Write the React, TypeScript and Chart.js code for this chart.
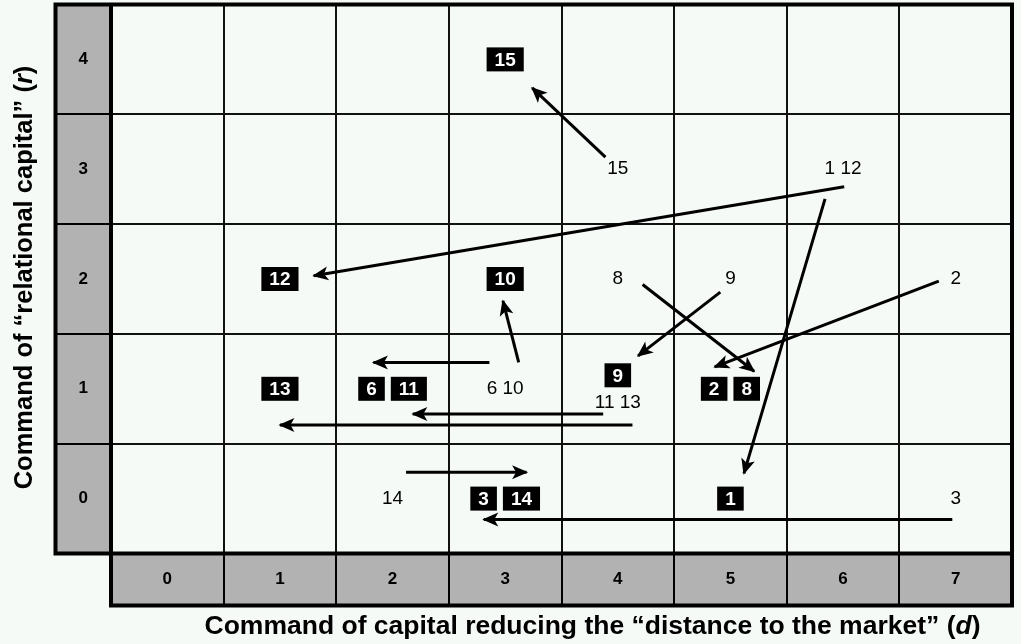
import React, { useEffect, useRef } from 'react';
import { Chart, registerables } from 'chart.js';

Chart.register(...registerables);

// ---------- data ----------
const X_TICKS = ['0', '1', '2', '3', '4', '5', '6', '7'];
const Y_TICKS = ['0', '1', '2', '3', '4'];
const X_TITLE = ['Command of capital reducing the \u201cdistance to the market\u201d (', 'd', ')'];
const Y_TITLE = ['Command of \u201crelational capital\u201d (', 'r', ')'];

const FIRMS = [1, 2, 3, 6, 8, 9, 10, 11, 12, 13, 14, 15];
const D_BEFORE = [6, 7, 7, 3, 4, 5, 3, 4, 6, 4, 2, 4];
const R_BEFORE = [3, 2, 0, 1, 2, 2, 1, 1, 3, 1, 0, 3];
const D_AFTER = [5, 5, 3, 2, 5, 4, 3, 2, 1, 1, 3, 3];
const R_AFTER = [0, 1, 0, 1, 1, 1, 2, 1, 2, 1, 0, 4];

// arrow start / tip (axis units)
const ARROW_X0 = [5.84, 6.85, 6.97, 2.86, 4.22, 4.91, 3.12, 3.87, 6.01, 4.13, 2.12, 3.89];
const ARROW_Y0 = [2.73, 1.98, -0.19, 1.24, 1.95, 1.88, 1.24, 0.77, 2.84, 0.67, 0.24, 3.11];
const ARROW_X1 = [5.12, 4.86, 2.81, 1.83, 5.21, 4.18, 2.98, 2.18, 1.3, 1.0, 3.19, 3.24];
const ARROW_Y1 = [0.23, 1.2, -0.19, 1.24, 1.16, 1.3, 1.8, 0.77, 2.03, 0.67, 0.24, 3.74];

// ---------- styles ----------
const BG = '#f6faf7';
const GRAY = '#b2b2b2';
const FONT = '"Liberation Sans", Arial, sans-serif';
const BAND_W = 55.5;
const BAND_H = 52;

type Cell = { x: number; y: number; ids: number[] };

function groupCells(ds: number[], rs: number[]): Cell[] {
  const map = new Map<string, Cell>();
  FIRMS.forEach((f, i) => {
    const k = ds[i] + ',' + rs[i];
    if (!map.has(k)) map.set(k, { x: ds[i], y: rs[i], ids: [] });
    map.get(k)!.ids.push(f);
  });
  return [...map.values()].map((c) => ({ ...c, ids: c.ids.sort((a, b) => a - b) }));
}

const PLAIN_CELLS = groupCells(D_BEFORE, R_BEFORE);
const BOX_CELLS = groupCells(D_AFTER, R_AFTER);
const N_ARROWS = FIRMS.length;
const PLAIN_INDEX = N_ARROWS;
const BOX_INDEX = N_ARROWS + 1;

function drawMixed(ctx: CanvasRenderingContext2D, parts: string[], size: number, cx: number, cy: number, rot: number) {
  const fonts = parts.map((_, i) => (i === 1 ? `italic bold ${size}px ${FONT}` : `bold ${size}px ${FONT}`));
  const widths = parts.map((p, i) => {
    ctx.font = fonts[i];
    return ctx.measureText(p).width;
  });
  const total = widths.reduce((a, b) => a + b, 0);
  ctx.save();
  ctx.translate(cx, cy);
  ctx.rotate(rot);
  ctx.fillStyle = '#000';
  ctx.textBaseline = 'middle';
  ctx.textAlign = 'left';
  let x = -total / 2;
  parts.forEach((p, i) => {
    ctx.font = fonts[i];
    ctx.fillText(p, x, 0);
    x += widths[i];
  });
  ctx.restore();
}

const gridPlugin = {
  id: 'gridDecor',
  beforeDraw(chart: any) {
    const { ctx, chartArea: a } = chart;
    ctx.save();
    ctx.fillStyle = BG;
    ctx.fillRect(0, 0, chart.width, chart.height);
    ctx.fillStyle = GRAY;
    ctx.fillRect(a.left - BAND_W, a.top, BAND_W, a.bottom - a.top);
    ctx.fillRect(a.left, a.bottom, a.right - a.left, BAND_H);
    ctx.restore();
  },
  afterDatasetsDraw(chart: any) {
    const { ctx } = chart;
    ctx.save();
    // arrow heads
    for (let i = 0; i < N_ARROWS; i++) {
      const m = chart.getDatasetMeta(i);
      const p0 = m.data[0];
      const p1 = m.data[1];
      const ang = Math.atan2(p1.y - p0.y, p1.x - p0.x);
      const c = Math.cos(ang);
      const s = Math.sin(ang);
      const L = 16;
      const W = 7;
      const N = 12;
      const tx = p1.x + 1.5 * c;
      const ty = p1.y + 1.5 * s;
      ctx.beginPath();
      ctx.moveTo(tx, ty);
      ctx.lineTo(tx - L * c - W * s, ty - L * s + W * c);
      ctx.lineTo(tx - N * c, ty - N * s);
      ctx.lineTo(tx - L * c + W * s, ty - L * s - W * c);
      ctx.closePath();
      ctx.fillStyle = '#000';
      ctx.fill();
    }
    const key = (c: Cell) => c.x + ',' + c.y;
    const plainKeys = new Set(PLAIN_CELLS.map(key));
    const boxKeys = new Set(BOX_CELLS.map(key));
    // plain labels (starting positions)
    const pm = chart.getDatasetMeta(PLAIN_INDEX);
    ctx.font = `19px ${FONT}`;
    ctx.fillStyle = '#000';
    ctx.textAlign = 'center';
    ctx.textBaseline = 'middle';
    PLAIN_CELLS.forEach((c, i) => {
      const el = pm.data[i];
      const dy = boxKeys.has(key(c)) ? 13.5 : 0;
      ctx.fillText(c.ids.join(' '), el.x, el.y + dy);
    });
    // boxed labels (final positions)
    const bm = chart.getDatasetMeta(BOX_INDEX);
    ctx.font = `bold 19px ${FONT}`;
    const PAD = 8;
    const H = 24;
    const GAP = 6;
    BOX_CELLS.forEach((c, i) => {
      const el = bm.data[i];
      const dy = plainKeys.has(key(c)) ? -13.5 : 0;
      const ws = c.ids.map((id) => ctx.measureText(String(id)).width + 2 * PAD);
      const total = ws.reduce((a, b) => a + b, 0) + GAP * (ws.length - 1);
      let x = el.x - total / 2;
      const y = el.y + dy;
      c.ids.forEach((id, j) => {
        ctx.fillStyle = '#000';
        ctx.fillRect(x, y - H / 2, ws[j], H);
        ctx.fillStyle = '#fff';
        ctx.fillText(String(id), x + ws[j] / 2, y + 1);
        x += ws[j] + GAP;
      });
    });
    ctx.restore();
  },
  afterDraw(chart: any) {
    const { ctx, chartArea: a, scales } = chart;
    const xs = scales.x;
    const ys = scales.y;
    ctx.save();
    ctx.strokeStyle = '#000';
    // separators inside bands
    ctx.lineWidth = 2;
    ctx.beginPath();
    for (let r = 0; r < Y_TICKS.length - 1; r++) {
      const y = Math.round(ys.getPixelForValue(r + 0.5));
      ctx.moveTo(a.left - BAND_W, y);
      ctx.lineTo(a.left, y);
    }
    for (let d = 0; d < X_TICKS.length - 1; d++) {
      const x = Math.round(xs.getPixelForValue(d + 0.5));
      ctx.moveTo(x, a.bottom);
      ctx.lineTo(x, a.bottom + BAND_H);
    }
    ctx.stroke();
    // thick frame
    ctx.lineWidth = 4;
    ctx.beginPath();
    const L0 = a.left - BAND_W;
    const B1 = a.bottom + BAND_H;
    ctx.moveTo(L0, a.top - 2); ctx.lineTo(L0, a.bottom + 2);
    ctx.moveTo(a.left, a.top - 2); ctx.lineTo(a.left, B1 + 2);
    ctx.moveTo(a.right, a.top - 2); ctx.lineTo(a.right, B1 + 2);
    ctx.moveTo(L0 - 2, a.top); ctx.lineTo(a.right + 2, a.top);
    ctx.moveTo(L0 - 2, a.bottom); ctx.lineTo(a.right + 2, a.bottom);
    ctx.moveTo(a.left - 2, B1); ctx.lineTo(a.right + 2, B1);
    ctx.stroke();
    ctx.restore();
    // axis titles
    drawMixed(ctx, X_TITLE, 26.5, 592.5, 627, 0);
    drawMixed(ctx, Y_TITLE, 25.5, 25, 277.5, -Math.PI / 2);
  },
};

export default function App() {
  const ref = useRef<HTMLCanvasElement>(null);
  useEffect(() => {
    document.body.style.margin = '0';
    const arrowSets = FIRMS.map((f, i) => ({
      label: 'Firm ' + f,
      data: [
        { x: ARROW_X0[i], y: ARROW_Y0[i] },
        { x: ARROW_X1[i], y: ARROW_Y1[i] },
      ],
      showLine: true,
      borderColor: '#000',
      borderWidth: 3,
      pointRadius: 0,
      fill: false,
    }));
    const chart = new Chart(ref.current!, {
      type: 'scatter',
      data: {
        datasets: [
          ...arrowSets,
          { label: 'before', data: PLAIN_CELLS as any, pointRadius: 0 },
          { label: 'after', data: BOX_CELLS as any, pointRadius: 0 },
        ] as any,
      },
      options: {
        responsive: false,
        animation: false,
        devicePixelRatio: 1,
        events: [],
        layout: { padding: { left: 0, top: 4.5, right: 9, bottom: 0 } },
        plugins: { legend: { display: false }, tooltip: { enabled: false } },
        scales: {
          x: {
            type: 'linear',
            min: -0.5,
            max: 7.5,
            bounds: 'data',
            afterBuildTicks: (s: any) => {
              s.ticks = X_TICKS.map((_, i) => ({ value: i }));
            },
            afterFit: (s: any) => {
              s.height = 90.5;
              s.paddingLeft = 0;
              s.paddingRight = 0;
              s.paddingTop = 0;
              s.paddingBottom = 0;
            },
            grid: { offset: true, color: '#111', lineWidth: 2, drawTicks: false },
            border: { display: false },
            ticks: {
              autoSkip: false,
              maxRotation: 0,
              padding: 16,
              color: '#000',
              font: { family: FONT, size: 17, weight: 'bold' },
              callback: (v: any) => X_TICKS[v],
            },
          },
          y: {
            type: 'linear',
            min: -0.5,
            max: 4.5,
            bounds: 'data',
            afterBuildTicks: (s: any) => {
              s.ticks = Y_TICKS.map((_, i) => ({ value: i }));
            },
            afterFit: (s: any) => {
              s.width = 111;
              s.paddingLeft = 0;
              s.paddingRight = 0;
              s.paddingTop = 0;
              s.paddingBottom = 0;
            },
            grid: { offset: true, color: '#111', lineWidth: 2, drawTicks: false },
            border: { display: false },
            ticks: {
              autoSkip: false,
              crossAlign: 'center',
              padding: 23,
              color: '#000',
              font: { family: FONT, size: 17, weight: 'bold' },
              callback: (v: any) => Y_TICKS[v],
            },
          },
        },
      } as any,
      plugins: [gridPlugin],
    });
    return () => chart.destroy();
  }, []);
  return (
    <div style={{ width: 1021, height: 644 }}>
      <canvas ref={ref} width={1021} height={644} style={{ display: 'block' }} />
    </div>
  );
}
